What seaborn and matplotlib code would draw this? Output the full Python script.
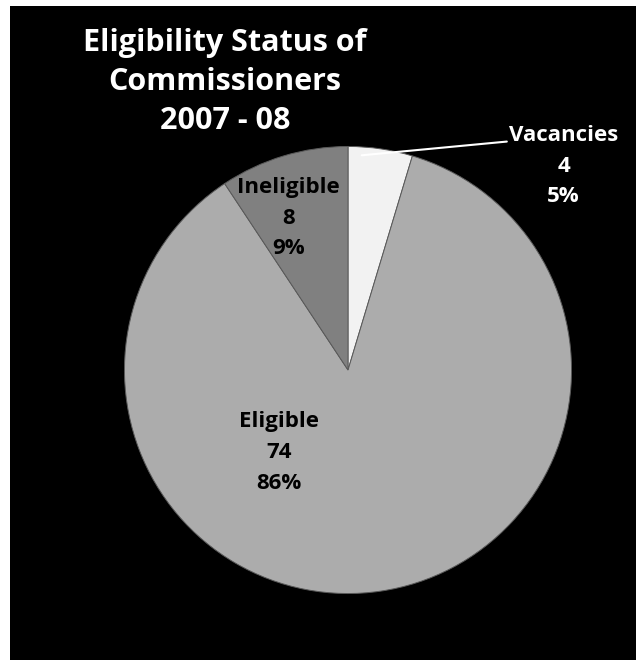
import matplotlib
matplotlib.use("Agg")
import matplotlib.pyplot as plt
import seaborn as sns
import numpy as np

sns.set_theme(style="white")
plt.rcParams['font.family'] = ['Open Sans', 'DejaVu Sans']

categories = ["Vacancies", "Eligible", "Ineligible"]
values = [4, 74, 8]
percents = ["5%", "86%", "9%"]
colors = ["#f2f2f2", "#acacac", "#808080"]
title_lines = ["Eligibility Status of", "Commissioners", "2007 - 08"]

W, H = 636, 660
fig = plt.figure(figsize=(W / 100, H / 100), dpi=100, facecolor="white")

# black background panel
bg = fig.add_axes([10 / W, 0, (W - 10) / W, (H - 6) / H])
bg.set_facecolor("black")
bg.set_xticks([]); bg.set_yticks([])
for s in bg.spines.values():
    s.set_visible(False)

cx, cy, r = 348, 370, 228
ax = fig.add_axes([(cx - r) / W, (H - cy - r) / H, 2 * r / W, 2 * r / H])
ax.set_facecolor("none")
wedges, _ = ax.pie(values, colors=colors, startangle=90, counterclock=False,
                   radius=1.0, wedgeprops=dict(edgecolor="#5a5a5a", linewidth=0.7))
ax.set_xlim(-1.02, 1.02)
ax.set_ylim(-1.02, 1.02)
ax.set_aspect("equal")
ax.axis("off")

def d(px, py):
    return (px - cx) / r, (cy - py) / r

fs = 16
ls = 1.62
lx, ly = d(287, 215)
ax.text(lx, ly, f"{categories[2]}\n{values[2]}\n{percents[2]}", ha="center", va="center",
        fontsize=fs, fontweight="bold", color="black", linespacing=ls)
lx, ly = d(278, 454)
ax.text(lx, ly, f"{categories[1]}\n{values[1]}\n{percents[1]}", ha="center", va="center",
        fontsize=fs, fontweight="bold", color="black", linespacing=ls)
lx, ly = d(568, 162)
ax.text(lx, ly, f"{categories[0]}\n{values[0]}\n{percents[0]}", ha="center", va="center",
        fontsize=fs, fontweight="bold", color="white", linespacing=ls, clip_on=False)
x0, y0 = d(362, 151)
x1, y1 = d(510, 137)
ax.plot([x0, x1], [y0, y1], color="white", lw=1.5, clip_on=False)

fig.text(225 / W, 1 - 82 / H, "\n".join(title_lines), ha="center", va="center",
         fontsize=22, fontweight="bold", color="white", linespacing=1.38)

fig.savefig("out.png", dpi=100, facecolor="white")
